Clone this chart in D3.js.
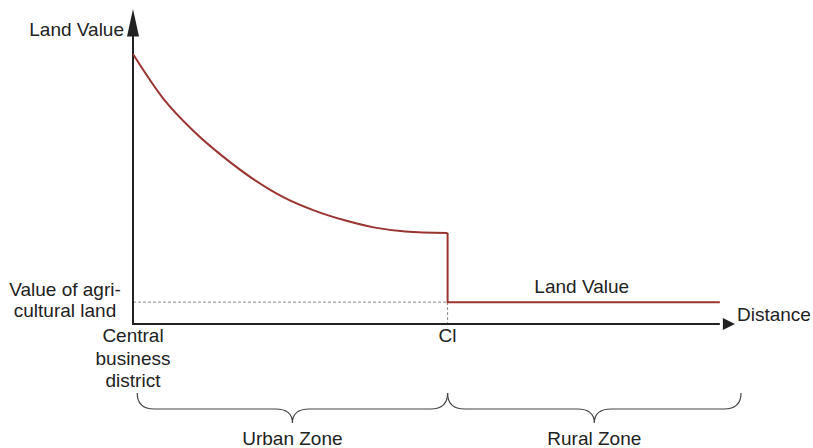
<!DOCTYPE html>
<html>
<head>
<meta charset="utf-8">
<script src="https://cdn.jsdelivr.net/npm/d3@7"></script>
<style>
  body { margin: 0; background: #fff; }
  svg { display: block; font-family: "Liberation Sans", Arial, sans-serif; }
  text { fill: #222; font-size: 19px; }
</style>
</head>
<body>
<div id="chart"></div>
<script>
// urban land value curve (distance from CBD, land value)
const urbanDistance = [0, 5, 10, 15, 20, 25, 30, 35, 40, 45, 52];
const urbanValue = [100, 83.5, 71.5, 61.8, 53.5, 46.8, 42, 38.4, 35.7, 34.3, 33.7];
// rural land value (flat agricultural value)
const ruralDistance = [52, 97];
const ruralValue = [8.1, 8.1];
const agriValue = 8.1;
const cityLimit = 52;
const zoneNames = ["Urban Zone", "Rural Zone"];
const zoneStart = [0.7, 52];
const zoneEnd = [52, 100.5];

const width = 813, height = 448;

const svg = d3.select("#chart").append("svg")
  .attr("width", width)
  .attr("height", height);

const x = d3.scaleLinear().domain([0, 100]).range([133, 738]);
const y = d3.scaleLinear().domain([0, 100]).range([324, 54]);

const axisColor = "#222";
const lineColor = "#9a3430";

// dashed guides
svg.append("line")
  .attr("x1", x(0)).attr("x2", x(cityLimit))
  .attr("y1", y(agriValue)).attr("y2", y(agriValue))
  .attr("stroke", "#888").attr("stroke-width", 1)
  .attr("stroke-dasharray", "3,2");
svg.append("line")
  .attr("x1", x(cityLimit)).attr("x2", x(cityLimit))
  .attr("y1", y(agriValue)).attr("y2", y(0))
  .attr("stroke", "#888").attr("stroke-width", 1)
  .attr("stroke-dasharray", "3,2");

// axes
svg.append("line")
  .attr("x1", x(0)).attr("x2", x(0))
  .attr("y1", y(0) + 1).attr("y2", y(113))
  .attr("stroke", axisColor).attr("stroke-width", 2);
svg.append("path")
  .attr("d", `M${x(0)},${y(116.7)} L${x(0) - 6},${y(106.5)} L${x(0) + 6},${y(106.5)} Z`)
  .attr("fill", axisColor);

svg.append("line")
  .attr("x1", x(0) - 1).attr("x2", x(97))
  .attr("y1", y(0)).attr("y2", y(0))
  .attr("stroke", axisColor).attr("stroke-width", 2);
svg.append("path")
  .attr("d", `M${x(99.5)},${y(0)} L${x(97.5)},${y(0) - 6} L${x(97.5)},${y(0) + 6} Z`)
  .attr("fill", axisColor);

// land value lines
const urbanPts = urbanDistance.map((d, i) => [d, urbanValue[i]]);
const line = d3.line()
  .x(d => x(d[0]))
  .y(d => y(d[1]))
  .curve(d3.curveMonotoneX);

svg.append("path")
  .attr("d", line(urbanPts))
  .attr("fill", "none")
  .attr("stroke", lineColor)
  .attr("stroke-width", 2);

const stepPts = [[cityLimit, urbanValue[urbanValue.length - 1]]]
  .concat(ruralDistance.map((d, i) => [d, ruralValue[i]]));
svg.append("path")
  .attr("d", d3.line().x(d => x(d[0])).y(d => y(d[1])).curve(d3.curveStepBefore)(stepPts))
  .attr("fill", "none")
  .attr("stroke", lineColor)
  .attr("stroke-width", 2);

// labels
svg.append("text")
  .attr("x", 124).attr("y", 36)
  .attr("text-anchor", "end")
  .text("Land Value");

svg.append("text")
  .attr("x", 737).attr("y", 321)
  .text("Distance");

const agri = svg.append("text")
  .attr("text-anchor", "middle");
agri.append("tspan").attr("x", 65).attr("y", 296).text("Value of agri-");
agri.append("tspan").attr("x", 65).attr("y", 317).text("cultural land");

const cbd = svg.append("text")
  .attr("text-anchor", "middle");
["Central", "business", "district"].forEach((t, i) => {
  cbd.append("tspan").attr("x", x(0)).attr("y", 342 + i * 22.5).text(t);
});

svg.append("text")
  .attr("x", x(cityLimit)).attr("y", 342)
  .attr("text-anchor", "middle")
  .text("Cl");

svg.append("text")
  .attr("x", x((ruralDistance[0] + ruralDistance[1]) / 2) - 2).attr("y", 293)
  .attr("text-anchor", "middle")
  .text("Land Value");

// zone braces
function brace(x0, x1) {
  const top = 393, mid = 409, tip = 423, r = 17;
  const cx = (x0 + x1) / 2;
  return `M${x0},${top} Q${x0},${mid} ${x0 + r},${mid} L${cx - r},${mid} ` +
    `Q${cx},${mid} ${cx},${tip} Q${cx},${mid} ${cx + r},${mid} ` +
    `L${x1 - r},${mid} Q${x1},${mid} ${x1},${top}`;
}

zoneNames.forEach((name, i) => {
  const x0 = x(zoneStart[i]), x1 = x(zoneEnd[i]);
  svg.append("path")
    .attr("d", brace(x0, x1))
    .attr("fill", "none")
    .attr("stroke", "#444")
    .attr("stroke-width", 1.2);
  svg.append("text")
    .attr("x", (x0 + x1) / 2).attr("y", 445)
    .attr("text-anchor", "middle")
    .text(name);
});
</script>
</body>
</html>
